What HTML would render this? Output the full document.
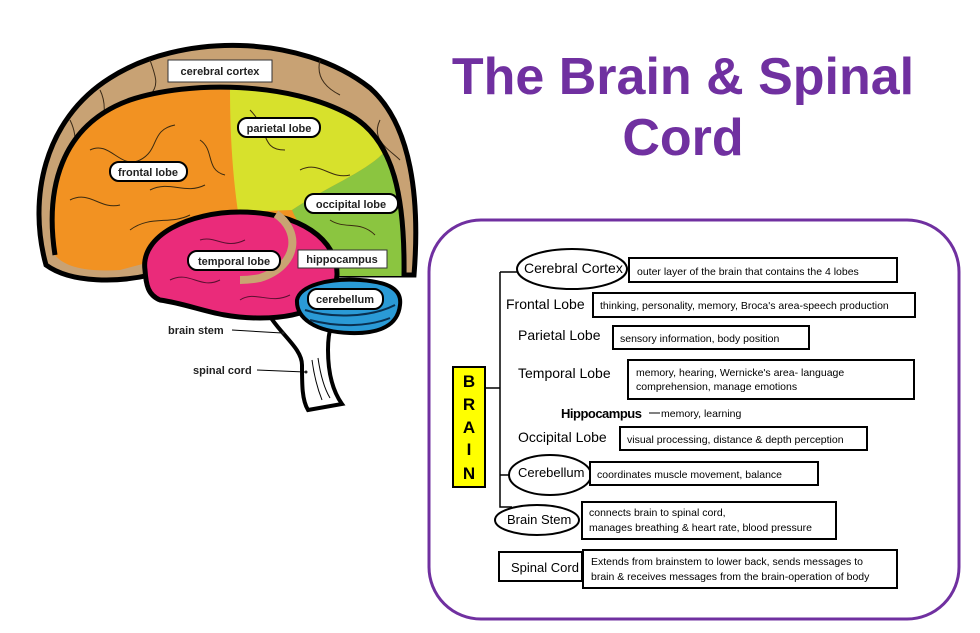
<!DOCTYPE html>
<html><head><meta charset="utf-8"><style>
html,body{margin:0;padding:0;background:#fff;}
svg{display:block;}
.t{font-family:"Liberation Sans",sans-serif;}
</style></head><body>
<svg width="980" height="633" viewBox="0 0 980 633" xmlns="http://www.w3.org/2000/svg" class="t">
<!-- stem -->
<path d="M262,300 C272,330 302,345 302,365 C302,385 302,400 308,410 L342,404 C332,390 328,370 328,350 C328,330 332,318 342,310 Z" fill="#fff" stroke="#000" stroke-width="4"/>
<path d="M312,360 C314,375 318,390 322,400 M318,358 C320,372 324,388 330,398" stroke="#000" stroke-width="1" fill="none"/>
<!-- outer cortex -->
<path d="M46,265 C28,200 43,120 110,78 C180,33 300,33 370,88 C412,125 420,200 414,275 L150,275 C120,282 72,284 46,265 Z" fill="#c8a274" stroke="#000" stroke-width="5"/>
<path d="M70,120 C80,140 75,160 60,180 M100,90 C110,110 100,130 95,150 M150,60 C155,75 160,85 150,95 M320,60 C315,80 330,90 340,95 M380,120 C370,140 390,150 400,160 M95,260 C85,240 70,230 60,220" stroke="#3a2a18" stroke-width="1" fill="none"/>
<!-- inner cerebrum -->
<path d="M55,255 C45,190 60,125 130,100 C190,80 290,82 350,115 C395,140 405,200 404,276 L300,276 C250,265 200,240 150,262 L120,270 C90,272 65,268 55,255 Z" fill="#f29222" stroke="none"/>
<path d="M230,88 C290,86 350,110 380,140 L386,150 C370,170 330,185 292,210 L238,212 C232,170 230,130 230,88 Z" fill="#d7e12c"/>
<path d="M386,150 C400,180 405,230 404,276 L330,276 C320,250 300,230 292,210 C330,185 370,170 386,150 Z" fill="#8bc540"/>
<path d="M55,255 C45,190 60,125 130,100 C190,80 290,82 350,115 C395,140 405,200 404,276" fill="none" stroke="#000" stroke-width="5"/>
<path d="M90,150 C110,140 120,170 140,160 C160,150 150,130 175,125 M70,200 C90,190 100,210 120,205 M130,230 C150,215 170,225 190,215 M200,140 C215,150 205,170 225,175 M250,110 C270,130 260,150 285,150 M300,170 C320,160 330,180 350,175 M330,220 C345,230 360,220 375,235 M150,190 C170,180 185,195 205,185" stroke="#3a2a10" stroke-width="1" fill="none"/>
<!-- temporal -->
<path d="M145,270 C140,235 190,212 240,212 C300,212 338,240 337,275 C336,300 310,318 260,318 C215,318 195,305 160,300 C148,295 146,285 145,270 Z" fill="#ea2b7a" stroke="#000" stroke-width="5"/>
<path d="M170,280 C190,270 200,290 220,280 M240,300 C255,290 270,305 290,295 M200,240 C215,235 225,250 245,240" stroke="#5a1030" stroke-width="1" fill="none"/>
<path d="M276,214 C300,230 300,265 260,278 C250,280 245,280 240,280" fill="none" stroke="#c9a472" stroke-width="8"/>
<!-- cerebellum -->
<path d="M297,300 C300,285 330,278 360,280 C390,282 402,290 400,305 C398,325 380,334 350,333 C315,332 296,318 297,300 Z" fill="#2a9ad6" stroke="#000" stroke-width="4"/>
<path d="M305,310 C330,318 370,318 395,305 M310,320 C340,328 370,326 390,318" stroke="#0a3050" stroke-width="2" fill="none"/>
<g font-size="11" font-weight="bold" text-anchor="middle" fill="#222">
<rect x="168" y="60" width="104" height="22" fill="#fff" stroke="#333" stroke-width="1"/><text x="220" y="75">cerebral cortex</text>
<rect x="238" y="118" width="82" height="19" rx="9" fill="#fff" stroke="#000" stroke-width="2"/><text x="279" y="132">parietal lobe</text>
<rect x="110" y="162" width="77" height="19" rx="9" fill="#fff" stroke="#000" stroke-width="2"/><text x="148" y="176">frontal lobe</text>
<rect x="305" y="194" width="93" height="19" rx="9" fill="#fff" stroke="#000" stroke-width="2"/><text x="351" y="208">occipital lobe</text>
<rect x="188" y="251" width="92" height="19" rx="9" fill="#fff" stroke="#000" stroke-width="2"/><text x="234" y="265">temporal lobe</text>
<rect x="298" y="250" width="89" height="18" fill="#fff" stroke="#333" stroke-width="1"/><text x="342" y="263">hippocampus</text>
<rect x="308" y="289" width="75" height="20" rx="9" fill="#fff" stroke="#000" stroke-width="2"/><text x="345" y="303">cerebellum</text>
</g>
<g font-size="11" font-weight="bold" fill="#222">
<text x="168" y="334">brain stem</text><line x1="232" y1="330" x2="282" y2="333" stroke="#000"/><circle cx="283" cy="333" r="1.5"/>
<text x="193" y="374">spinal cord</text><line x1="257" y1="370" x2="305" y2="372" stroke="#000"/><circle cx="306" cy="372" r="1.5"/>
</g>
<g font-size="52" font-weight="bold" fill="#7030a0" text-anchor="middle">
<text x="683" y="94">The Brain &amp; Spinal</text>
<text x="683" y="155">Cord</text>
</g>
<rect x="429" y="220" width="530" height="399" rx="52" fill="#fff" stroke="#7030a0" stroke-width="3"/>
<rect x="453" y="367" width="32" height="120" fill="#ffff00" stroke="#000" stroke-width="2"/>
<g font-size="17" font-weight="bold" text-anchor="middle"><text x="469" y="387">B</text><text x="469" y="410">R</text><text x="469" y="433">A</text><text x="469" y="455">I</text><text x="469" y="479">N</text></g>
<path d="M485,388 L500,388 M500,272 L500,507 L512,507 M500,272 L517,272 M500,475 L509,475" stroke="#000" stroke-width="1.5" fill="none"/>
<g stroke="#000" stroke-width="2" fill="#fff">
<ellipse cx="572" cy="269" rx="55" ry="20"/>
<rect x="629" y="258" width="268" height="24"/>
<rect x="593" y="293" width="322" height="24"/>
<rect x="613" y="326" width="196" height="23"/>
<rect x="628" y="360" width="286" height="39"/>
<rect x="620" y="427" width="247" height="23"/>
<ellipse cx="550" cy="475" rx="41" ry="20"/>
<rect x="590" y="462" width="228" height="23"/>
<ellipse cx="537" cy="520" rx="42" ry="15"/>
<rect x="582" y="502" width="254" height="37"/>
<rect x="499" y="552" width="83" height="29"/>
<rect x="583" y="550" width="314" height="38"/>
</g>
<g font-size="14" fill="#000">
<text x="524" y="273">Cerebral Cortex</text>
<text x="506" y="309">Frontal Lobe</text>
<text x="518" y="340">Parietal Lobe</text>
<text x="518" y="378">Temporal Lobe</text>
<text x="518" y="442">Occipital Lobe</text>
<text x="518" y="477" font-size="13">Cerebellum</text>
<text x="507" y="524" font-size="13">Brain Stem</text>
<text x="511" y="572" font-size="13">Spinal Cord</text>
<text x="561" y="418" font-weight="bold" font-size="13" letter-spacing="-0.5">Hippocampus</text>
</g>
<line x1="649" y1="413" x2="660" y2="413" stroke="#000"/>
<g font-size="10.5" fill="#000">
<text x="637" y="275">outer layer of the brain that contains the 4 lobes</text>
<text x="600" y="309">thinking, personality, memory, Broca's area-speech production</text>
<text x="620" y="342">sensory information, body position</text>
<text x="636" y="376">memory, hearing,  Wernicke's area- language</text>
<text x="636" y="390">comprehension, manage emotions</text>
<text x="661" y="417">memory, learning</text>
<text x="627" y="443">visual processing, distance &amp; depth perception</text>
<text x="597" y="478">coordinates muscle movement, balance</text>
<text x="589" y="516">connects brain to spinal cord,</text>
<text x="589" y="531">manages breathing &amp; heart rate, blood pressure</text>
<text x="591" y="565">Extends from brainstem to lower back, sends messages to</text>
<text x="591" y="580">brain &amp; receives messages from the brain-operation of body</text>
</g>
</svg>
</body></html>
